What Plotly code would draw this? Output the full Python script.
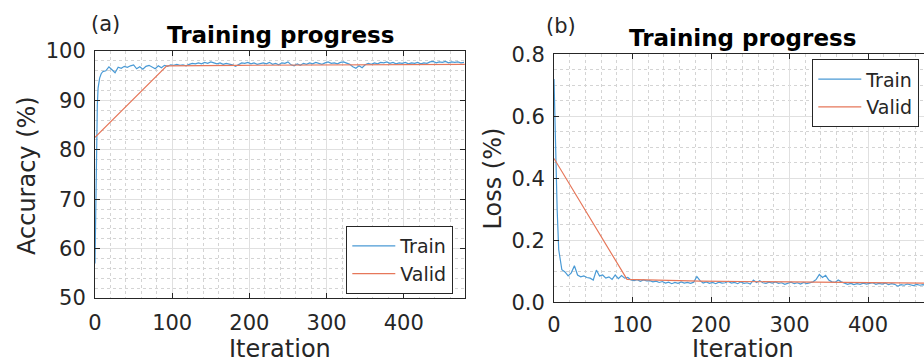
import plotly.graph_objects as go

# Training iterations at which the training metrics were logged
train_iter = [0, 1, 2, 3, 4, 6, 8] + list(range(10, 479, 4))

train_acc = [
    57.0, 68.0, 82.0, 89.0, 92.5, 94.5, 95.4,
    95.8, 96.0, 96.8, 96.2, 95.6, 96.7, 96.5, 96.9, 96.7, 97.0,
    97.2, 96.4, 96.8, 96.3, 96.9, 97.1, 96.8, 96.4, 97.0, 96.6,
    97.1, 96.9, 97.2, 97.1, 97.3, 97.1, 97.2, 97.0, 97.3, 97.5,
    97.4, 97.6, 97.4, 97.7, 97.5, 97.8, 97.6, 97.4, 97.6, 97.3,
    97.5, 97.4, 97.2, 96.9, 97.3, 97.6, 97.5, 97.7, 97.4, 97.6,
    97.3, 97.5, 97.6, 97.4, 97.7, 97.3, 97.5, 97.2, 97.6, 97.5,
    97.8, 97.2, 97.0, 97.4, 97.1, 97.5, 97.3, 97.6, 97.4, 97.7,
    97.5, 97.3, 97.6, 97.8, 97.5, 97.6, 97.4, 97.7, 97.8, 97.5,
    97.3, 96.8, 96.5, 97.0, 96.6, 97.2, 97.5, 97.3, 97.6, 97.4,
    97.7, 97.6, 97.8, 97.5, 97.7, 97.4, 97.6, 97.5, 97.7, 97.4,
    97.6, 97.5, 97.7, 97.4, 97.6, 97.5, 97.8, 97.9, 97.6, 97.8,
    97.7, 97.9, 97.6, 97.8, 97.7, 97.8, 97.6, 97.7,
]

train_loss = [
    0.720, 0.600, 0.500, 0.420, 0.300, 0.170, 0.130,
    0.105, 0.098, 0.085, 0.095, 0.118, 0.088, 0.082, 0.085, 0.080, 0.078,
    0.072, 0.104, 0.085, 0.088, 0.078, 0.082, 0.074, 0.088, 0.076, 0.086,
    0.078, 0.080, 0.072, 0.070, 0.073, 0.068, 0.072, 0.069, 0.070, 0.066,
    0.068, 0.064, 0.067, 0.062, 0.065, 0.060, 0.064, 0.061, 0.066, 0.062,
    0.064, 0.061, 0.065, 0.083, 0.070, 0.062, 0.066, 0.061, 0.064, 0.060,
    0.065, 0.062, 0.063, 0.067, 0.062, 0.064, 0.060, 0.066, 0.061, 0.063,
    0.059, 0.072, 0.064, 0.070, 0.063, 0.061, 0.065, 0.062, 0.066, 0.061,
    0.063, 0.058, 0.062, 0.065, 0.060, 0.063, 0.059, 0.064, 0.060, 0.062,
    0.066, 0.074, 0.090, 0.080, 0.087, 0.072, 0.066, 0.064, 0.072, 0.066,
    0.062, 0.058, 0.061, 0.057, 0.060, 0.058, 0.062, 0.059, 0.061, 0.063,
    0.058, 0.061, 0.059, 0.062, 0.057, 0.060, 0.058, 0.052, 0.057, 0.055,
    0.059, 0.056, 0.054, 0.058, 0.055, 0.057, 0.054, 0.056,
]

# Validation checkpoints
valid_iter = [0, 93, 186, 279, 372, 479]
valid_acc = [82.5, 97.0, 97.1, 97.2, 97.3, 97.3]
valid_loss = [0.464, 0.074, 0.068, 0.066, 0.064, 0.062]

W, H = 924, 363
FONT = "DejaVu Sans"
TXT = "#262626"
BLUE = "#4a9ad5"
ORANGE = "#e6775a"


def px_x(p):
    return p / W


def px_y(p):
    return 1 - p / H


fig = go.Figure()

fig.add_trace(go.Scatter(x=train_iter, y=train_acc, mode="lines", name="Train",
                         line=dict(color=BLUE, width=1.2), xaxis="x", yaxis="y",
                         legend="legend"))
fig.add_trace(go.Scatter(x=valid_iter, y=valid_acc, mode="lines", name="Valid",
                         line=dict(color=ORANGE, width=1.2), xaxis="x", yaxis="y",
                         legend="legend"))
fig.add_trace(go.Scatter(x=train_iter, y=train_loss, mode="lines", name="Train",
                         line=dict(color=BLUE, width=1.2), xaxis="x2", yaxis="y2",
                         legend="legend2"))
fig.add_trace(go.Scatter(x=valid_iter, y=valid_loss, mode="lines", name="Valid",
                         line=dict(color=ORANGE, width=1.2), xaxis="x2", yaxis="y2",
                         legend="legend2"))

axis_common = dict(
    showline=True, linecolor=TXT, linewidth=1,
    ticks="inside", ticklen=5, tickcolor=TXT, tickwidth=1,
    showgrid=True, gridcolor="#e0e0e0", gridwidth=1,
    zeroline=False, automargin=False,
    tickfont=dict(family=FONT, size=21, color=TXT),
)

minor_x = dict(dtick=20, showgrid=True, gridcolor="#d4d4d4", griddash="dot", ticks="")

legend_common = dict(
    bgcolor="white", bordercolor=TXT, borderwidth=1, itemwidth=43,
    font=dict(family=FONT, size=19, color=TXT),
)

fig.update_layout(
    width=W, height=H,
    margin=dict(l=0, r=0, t=0, b=0, autoexpand=False),
    paper_bgcolor="white", plot_bgcolor="white",
    xaxis=dict(domain=[px_x(95), px_x(465)], range=[0, 479.3], dtick=100,
               mirror="ticks", anchor="y", minor=minor_x, ticklabelstandoff=6,
               **axis_common),
    yaxis=dict(domain=[px_y(298), px_y(51)], range=[50, 100], dtick=10,
               mirror="ticks", anchor="x", ticklabelstandoff=4,
               minor=dict(dtick=2, showgrid=True, gridcolor="#d4d4d4", griddash="dot", ticks=""),
               **axis_common),
    xaxis2=dict(domain=[px_x(554), 1.0], range=[0, 471.3], dtick=100,
                mirror="ticks", anchor="y2", minor=minor_x, ticklabelstandoff=3,
                **axis_common),
    yaxis2=dict(domain=[px_y(302.3), px_y(54.3)], range=[0, 0.8], dtick=0.2,
                mirror=False, anchor="x2", tickformat=".1f", ticklabelstandoff=4,
                minor=dict(dtick=0.05, showgrid=True, gridcolor="#d4d4d4", griddash="dot", ticks=""),
                **axis_common),
    legend=dict(x=px_x(453.3), y=px_y(260), xanchor="right", yanchor="middle",
                **legend_common),
    legend2=dict(x=px_x(919.3), y=px_y(93.3), xanchor="right", yanchor="middle",
                 **legend_common),
    showlegend=True,
)

annotations = [
    dict(text="(a)", x=px_x(105), y=px_y(24), font=dict(size=21, color=TXT)),
    dict(text="<b>Training progress</b>", x=px_x(280), y=px_y(35), font=dict(size=23, color="black")),
    dict(text="(b)", x=px_x(561), y=px_y(26), font=dict(size=21, color=TXT)),
    dict(text="<b>Training progress</b>", x=px_x(742.5), y=px_y(38), font=dict(size=23, color="black")),
    dict(text="Iteration", x=px_x(280), y=px_y(348.5), font=dict(size=24, color=TXT)),
    dict(text="Iteration", x=px_x(742.5), y=px_y(348.5), font=dict(size=24, color=TXT)),
    dict(text="Accuracy (%)", x=px_x(27), y=px_y(176), textangle=-90, font=dict(size=24, color=TXT)),
    dict(text="Loss (%)", x=px_x(492.5), y=px_y(179), textangle=-90, font=dict(size=24, color=TXT)),
]
for a in annotations:
    a.update(xref="paper", yref="paper", showarrow=False, xanchor="center", yanchor="middle")
    a["font"]["family"] = FONT
fig.update_layout(annotations=annotations)

# Let the figure fill the page edge to edge
fig.write_html(
    "out.html",
    post_script="document.body.style.margin='0';document.body.style.overflow='hidden';",
)
